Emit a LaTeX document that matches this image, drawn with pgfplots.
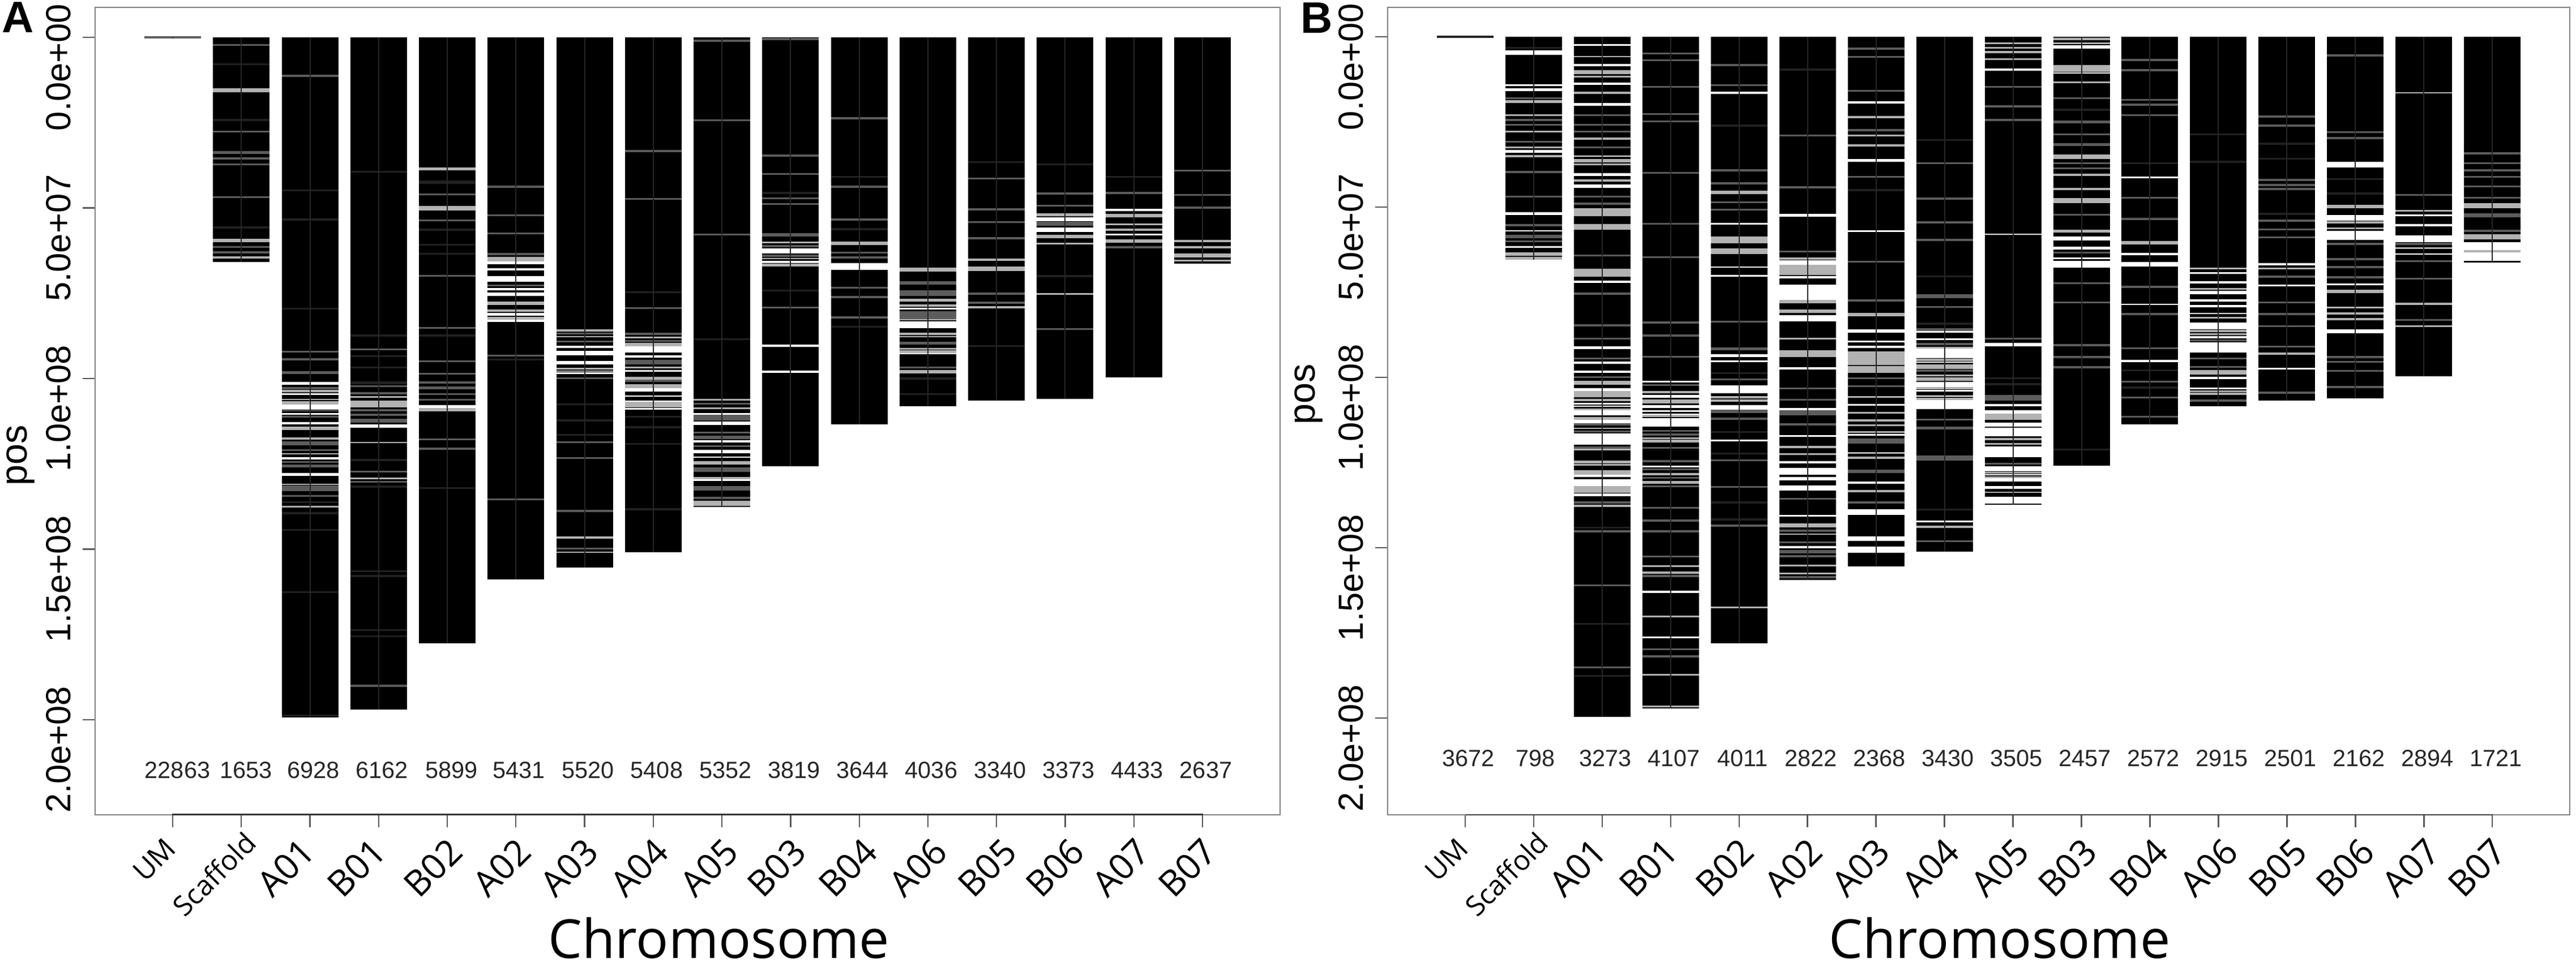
\documentclass[border=0pt]{standalone}
\usepackage{fontspec}
\usepackage{pgfplots}
\usepackage{pgfplotstable}
\pgfplotsset{compat=1.18}
\setmainfont{Liberation Sans}
\newfontfamily\labfont{Open Sans}
\definecolor{bandL}{gray}{0.70}
\definecolor{bandM}{gray}{0.36}
\definecolor{bandD}{gray}{0.13}
\definecolor{axgray}{gray}{0.50}
\newcommand{\yf}{\fontsize{12.3}{12.3}\selectfont}
\newcommand{\xf}{\labfont\fontsize{12.6}{12.6}\selectfont}
% tick label pushed right by 1.41 x #1 (trailing kern plus taller strut)
\newcommand{\xl}[2]{{\xf\rule{0pt}{\dimexpr9pt+#1\relax}#2\kern-#1\relax}}

% chromosome length (Mb), 1 px = 0.2pt in this file
\pgfplotstableread[row sep=\\]{c len\\ 0 .3\\ 1 65.8\\ 2 199.4\\ 3 197\\ 4 177.6\\ 5 158.9\\ 6 155.4\\ 7 150.9\\ 8 137.6\\ 9 125.8\\ 10 113.5\\ 11 108.2\\ 12 106.5\\ 13 105.9\\ 14 99.7\\ 15 66.4\\}\lenA
\pgfplotstableread[row sep=\\]{c len\\ 0 .3\\ 1 65.5\\ 2 199.6\\ 3 197.2\\ 4 178\\ 5 159.5\\ 6 155.5\\ 7 151.1\\ 8 137.3\\ 9 125.9\\ 10 113.8\\ 11 108.5\\ 12 106.8\\ 13 106.2\\ 14 99.7\\ 15 66.3\\}\lenB

% bands: c = chromosome, p = position (Mb), h = half height (Mb)
\pgfplotstableread[row sep=\\]{c p h\\
2 101.4 .4\\ 2 104.6 .3\\ 2 108.4 .7\\ 2 110.4 .3\\ 2 113.1 .3\\ 2 123.4 .35\\ 2 128.1 .45\\
3 114 .5\\ 4 108.2 .45\\
5 66 .5\\ 5 68 .4\\ 5 70.8 .85\\ 5 73.8 .3\\ 5 75.3 .5\\ 5 81.2 .4\\ 5 83.1 .3\\
6 90.7 .35\\ 6 92.5 .7\\ 6 95.4 .5\\ 6 98.5 .25\\
7 91.4 1\\ 7 93.6 .35\\ 7 97.8 .25\\ 7 103.4 .5\\ 7 105.2 .2\\ 7 106.7 .3\\ 7 108.9 .2\\
8 110.4 .3\\ 8 113.1 .5\\ 8 118.4 .3\\ 8 121.4 .5\\ 8 123.1 .2\\ 8 129.7 .3\\
9 62.6 .7\\ 9 65.8 .3\\ 9 90.4 .3\\ 9 98 .3\\
10 67.1 1\\
11 79.5 .2\\ 11 84.2 1\\ 11 92.7 .2\\
13 53.3 .6\\ 13 56.4 .7\\
14 50.6 .3\\ 14 57.8 .3\\
}\whiteA
\pgfplotstableread[row sep=\\]{c p h\\
1 15.5 .55\\ 1 59.5 .5\\ 1 64.5 .3\\
2 103.7 .3\\ 2 106.1 .2\\ 2 107.2 .5\\ 2 114.6 .5\\ 2 117.6 .3\\ 2 122.1 .2\\ 2 131 .2\\ 2 137.6 .3\\
3 105.4 .3\\ 3 107.4 1\\ 3 118.8 .2\\ 3 129.3 .2\\
4 38.6 .4\\ 4 50.1 .6\\ 4 109.1 .5\\
5 65 .6\\ 5 78 .5\\ 5 80.1 .4\\ 5 82.3 .4\\
6 85.9 .35\\ 6 87.7 .2\\ 6 97.1 .2\\ 6 97.9 .2\\ 6 146.6 .3\\ 6 150.9 .2\\
7 88 .2\\ 7 90.1 .5\\ 7 96.8 .3\\ 7 99.9 .4\\ 7 102.3 .6\\ 7 107.6 .8\\
8 106.2 .3\\ 8 108.7 .2\\ 8 124.8 .5\\ 8 129.2 .3\\ 8 136.6 .8\\
9 60.1 .3\\ 9 64.8 .2\\ 9 66.7 .4\\
10 60.4 .5\\
11 68.1 .6\\ 11 77 .4\\ 11 78.6 .4\\ 11 82.6 .3\\ 11 86.9 .3\\ 11 87.7 .2\\ 11 91.3 .2\\ 11 92.1 .4\\ 11 98 .5\\
12 65.2 .3\\ 12 67.8 .7\\ 12 79.1 .3\\
13 52 .4\\ 13 58.3 .5\\ 13 60.4 .25\\ 13 75.2 .25\\
14 52.3 .5\\ 14 54.8 .3\\ 14 56.4 .3\\ 14 59.7 .5\\
15 59.7 .3\\ 15 61.5 .3\\ 15 63.9 .6\\ 15 65.4 .3\\
}\lightA
\pgfplotstableread[row sep=\\]{c p h\\
0 0 .3\\
1 2.2 .28\\ 1 27.6 .28\\ 1 33.8 .4\\ 1 35.5 .28\\ 1 37.2 .28\\ 1 46.8 .28\\ 1 61.4 .28\\ 1 63 .28\\
2 11.3 .28\\ 2 92.1 .28\\ 2 94.4 .28\\ 2 98.3 .4\\ 2 102.8 .3\\ 2 109.5 .2\\ 2 111.2 .28\\ 2 119 .6\\ 2 121 .28\\ 2 124.5 .28\\ 2 125.7 .4\\ 2 132.2 .9\\ 2 134.4 .3\\
3 91.5 .28\\ 3 102.2 .28\\ 3 104.3 .3\\ 3 109.3 .28\\ 3 110.6 .28\\ 3 112.4 .6\\ 3 127.3 .28\\ 3 130.3 .28\\ 3 190.1 .28\\
4 46 .28\\ 4 53.6 .28\\ 4 69.9 .28\\ 4 85.2 .28\\ 4 94.9 .28\\ 4 98.6 .28\\ 4 101.2 .3\\ 4 102.8 .4\\ 4 104.6 .28\\ 4 106.2 .28\\ 4 117.8 .25\\ 4 120.6 .28\\
5 43.8 .28\\ 5 52.2 .28\\ 5 57.5 .28\\ 5 63.5 .28\\ 5 72.7 .28\\ 5 93.3 .28\\ 5 135.5 .25\\
6 86.8 .28\\ 6 89.1 .28\\ 6 99.9 .3\\ 6 118.7 .28\\ 6 123.3 .28\\ 6 138.8 .28\\ 6 149.9 .28\\
7 33.3 .28\\ 7 47.3 .28\\ 7 79.4 .28\\ 7 86.9 .4\\ 7 89 .28\\ 7 95.2 .6\\ 7 100.7 .28\\
8 1 .28\\ 8 24.3 .28\\ 8 57.8 .28\\ 8 107.4 .28\\ 8 111.5 .8\\ 8 115.9 .28\\ 8 117.3 .5\\ 8 119.8 .28\\ 8 126.7 .7\\ 8 132.2 .7\\ 8 135 .28\\
9 .5 .28\\ 9 34.7 .3\\ 9 40 .28\\ 9 47.2 .28\\ 9 48.8 .28\\ 9 57.8 .5\\ 9 61.2 .28\\ 9 64 .28\\ 9 79.2 .28\\
10 23.7 .28\\ 10 43.8 .28\\ 10 53.4 .28\\ 10 63.1 .28\\ 10 64.5 .28\\ 10 73.4 .28\\ 10 76.1 .28\\ 10 82.1 .28\\
11 72 .5\\ 11 75 .8\\ 11 81.4 1.2\\ 11 89.7 .4\\ 11 96.8 .28\\
12 41.4 .28\\ 12 50.4 .28\\ 12 54.1 .28\\ 12 58.9 .28\\ 12 75.1 .28\\ 12 77.8 .28\\
13 45.8 .28\\ 13 49.3 .28\\ 13 54.6 .6\\ 13 85.5 .28\\
14 45.6 .28\\ 14 61.5 .3\\
15 39.1 .28\\ 15 46.2 .28\\ 15 49.9 .28\\
}\midA
\pgfplotstableread[row sep=\\]{c p h\\
1 7.9 .28\\ 1 24.2 .28\\ 1 55.7 .28\\
2 44.9 .28\\ 2 53.4 .28\\ 2 79.5 .28\\ 2 136.3 .28\\ 2 139.5 .28\\ 2 144.4 .28\\ 2 162.6 .28\\ 2 198.8 .28\\
3 39.4 .28\\ 3 87.4 .28\\ 3 93.5 .28\\ 3 96.8 .28\\ 3 101.2 .4\\ 3 123.9 .4\\ 3 131.7 .28\\ 3 156.5 .28\\ 3 157.9 .28\\ 3 173.7 .28\\ 3 175.6 .28\\
4 42.5 .5\\ 4 56.4 .28\\ 4 60.8 .28\\ 4 63.4 .28\\ 4 87.4 .28\\ 4 132.1 .28\\
5 94.5 .28\\
6 107.6 .28\\ 6 112.3 .28\\ 6 116.5 .28\\
7 74.7 .28\\ 7 111.2 .28\\ 7 114.3 .28\\ 7 119.2 .28\\ 7 138.3 .28\\
8 88.5 .28\\
9 45.6 .28\\ 9 74.2 .28\\
10 40.9 .28\\ 10 56.2 .28\\ 10 84.8 .28\\
11 100 .28\\ 11 104.6 .28\\
12 36.6 .28\\ 12 90.5 .28\\
13 37.2 .28\\ 13 70 .28\\
14 40.9 .28\\
}\darkA

\pgfplotstableread[row sep=\\]{c p h\\
1 4.7 .65\\ 1 14.2 .3\\ 1 15.5 .4\\ 1 33.7 .4\\ 1 51.9 .4\\ 1 57 .2\\ 1 61.7 .2\\
2 2.4 .25\\ 2 8.3 .3\\ 2 13.8 .3\\ 2 19.9 .4\\ 2 35 .2\\ 2 40.5 .4\\ 2 43.9 .5\\ 2 71.9 .3\\ 2 91.3 .45\\ 2 95.7 .35\\ 2 98.3 .35\\ 2 103.5 .4\\ 2 107.7 .25\\ 2 108.5 .2\\ 2 110.3 .8\\ 2 113 .5\\ 2 118.1 1.6\\ 2 128.9 .3\\ 2 130.9 1\\ 2 134.5 .45\\
3 101.3 .25\\ 3 105.5 .4\\ 3 108.5 .4\\ 3 109.9 .3\\ 3 110.9 .25\\ 3 113.2 1.2\\ 3 126.2 .25\\ 3 163 .35\\ 3 176.3 .25\\
4 16.4 .35\\ 4 54.9 .2\\ 4 67.6 .2\\ 4 70.2 .2\\ 4 93.6 .35\\ 4 95.3 .25\\ 4 103.5 1.2\\ 4 108.9 .7\\ 4 118.5 .3\\
5 52.4 .35\\ 5 66.5 .9\\ 5 70.6 .35\\ 5 75 2.3\\ 5 82.7 .9\\ 5 97.3 .3\\ 5 109.3 .4\\ 5 117.2 .2\\ 5 124.9 .35\\ 5 127.5 1\\ 5 129.8 .5\\ 5 132.5 .7\\ 5 140.6 .25\\ 5 149.8 .3\\
6 19.3 .35\\ 6 36.3 .35\\ 6 57 .25\\ 6 86.4 .45\\ 6 89.4 .25\\ 6 91 .35\\ 6 95.8 .25\\ 6 108 .25\\ 6 116.8 .25\\ 6 130.9 .3\\ 6 139.5 .8\\ 6 147.3 .7\\ 6 150.6 .9\\
7 86.6 .2\\ 7 88.8 .25\\ 7 93 1.4\\ 7 95.5 .2\\ 7 102.2 .8\\ 7 103.9 .25\\ 7 105.5 .2\\ 7 107.9 1.4\\ 7 142.3 .3\\
8 9.6 .3\\ 8 58 .2\\ 8 90.4 .5\\ 8 108.1 .35\\ 8 110.2 .5\\ 8 113.8 .6\\ 8 116 1.3\\ 8 121.8 1.6\\ 8 126.8 .8\\ 8 128.6 .2\\ 8 130.1 .5\\ 8 132.3 .35\\ 8 136 1\\
9 3 .5\\ 9 10.6 .2\\ 9 59.2 .6\\ 9 62.1 .4\\ 9 65 .3\\ 9 66.8 1\\
10 41.2 .25\\ 10 63.8 .3\\ 10 66.8 .7\\ 10 78.6 .2\\ 10 95.2 .3\\
11 69.3 .25\\ 11 72.1 .3\\ 11 75 .5\\ 11 77.4 .4\\ 11 79.1 .3\\ 11 81.2 .2\\ 11 84.9 1\\ 11 88.2 .25\\ 11 91.2 1.5\\ 11 100.2 .3\\ 11 103.2 .2\\
12 66.8 .3\\ 12 73 .2\\ 12 97.5 .25\\
13 37.5 .8\\ 13 53.2 .8\\ 13 58.3 1.4\\ 13 72.7 .2\\ 13 86.4 .6\\
14 52.4 .3\\ 14 55.3 .3\\ 14 59.3 1\\ 14 63.8 .2\\
15 63.05 2.75\\
}\whiteB
\pgfplotstableread[row sep=\\]{c p h\\
1 19 .4\\ 1 23 .28\\ 1 27.8 .28\\ 1 32.5 .28\\ 1 35 .3\\ 1 63.8 .5\\ 1 65 .4\\
2 5.8 .2\\ 2 10.4 .6\\ 2 11.7 .28\\ 2 16.4 .3\\ 2 29.9 .28\\ 2 36.3 .5\\ 2 37.5 .28\\ 2 42.2 .3\\ 2 51.5 1.2\\ 2 55.8 .8\\ 2 69.3 1.2\\ 2 101.6 .6\\ 2 104.9 .9\\ 2 106.6 .3\\ 2 109.4 .3\\ 2 112.1 .4\\ 2 114.9 .2\\ 2 121.2 .28\\ 2 124.8 .4\\ 2 125.7 .28\\ 2 127.9 .6\\ 2 132.9 1\\ 2 137.7 .28\\
3 104.3 .28\\ 3 106.8 .3\\ 3 107.4 .28\\ 3 111.3 .28\\ 3 117.9 .28\\ 3 118.7 .4\\ 3 128.4 .28\\ 3 130.8 .4\\ 3 155.4 .3\\ 3 157.3 .28\\ 3 170.2 .28\\ 3 187.3 .3\\ 3 196.6 .28\\
4 45.6 .5\\ 4 59.6 1\\ 4 63 .8\\ 4 105.8 .4\\ 4 106.8 .4\\ 4 167.5 .25\\
5 65.1 .3\\ 5 68.5 1.5\\ 5 77.8 .5\\ 5 80.6 .5\\ 5 88.6 .28\\ 5 93 1\\ 5 120.4 .28\\ 5 122.5 .28\\ 5 143.4 .6\\ 5 146 .2\\ 5 155.2 .28\\ 5 157.5 .25\\
6 23.6 .28\\ 6 29 .28\\ 6 31.9 .28\\ 6 81.6 .5\\ 6 94.4 2\\ 6 97.7 1\\ 6 105.7 .28\\ 6 110.4 .2\\ 6 112.6 .28\\ 6 114 .28\\ 6 116 .28\\ 6 122.2 .28\\ 6 123.6 .28\\ 6 133.4 .3\\
7 91.3 .28\\ 7 94.8 .3\\ 7 96.5 .28\\ 7 97.2 .28\\ 7 99.4 .28\\ 7 100.5 .5\\ 7 103.2 .35\\ 7 106.3 .3\\ 7 143.8 .3\\
8 1.9 .28\\ 8 3.2 .28\\ 8 4.5 .28\\ 8 6.6 .28\\ 8 111.5 .9\\ 8 118.1 .25\\ 8 119.5 .25\\ 8 128 .3\\ 8 129.3 .3\\ 8 133.7 .2\\
9 .7 .3\\ 9 1.9 .3\\ 9 9.3 1\\ 9 13.4 .2\\ 9 35.2 .6\\ 9 40.5 .28\\ 9 44.7 .28\\ 9 48.1 .7\\ 9 57 .4\\
10 60.4 .5\\
11 68 .28\\ 11 74 .28\\ 11 82.5 .28\\ 11 86.4 .28\\ 11 87.3 .28\\ 11 98.5 .7\\ 11 104.1 .28\\ 11 104.8 .28\\
12 68 .28\\ 12 93 .28\\
13 49.8 .5\\ 13 54.5 .28\\ 13 56.2 .28\\ 13 74.8 .5\\ 13 79.5 .28\\ 13 81.2 .28\\ 13 82.9 .28\\
14 16.4 .2\\ 14 51.1 .2\\ 14 62 .28\\ 14 78.4 .3\\ 14 85 .28\\
15 49.6 .7\\ 15 58.7 .7\\ 15 63 .35\\
}\lightB
\pgfplotstableread[row sep=\\]{c p h\\
1 18 .28\\ 1 24.4 .28\\ 1 25.8 .28\\ 1 30.8 .28\\ 1 39.7 .28\\ 1 46.9 .28\\ 1 55.3 .28\\ 1 58.7 .5\\ 1 60 .28\\
2 23 .28\\ 2 25.8 .28\\ 2 27.8 .28\\ 2 32.5 .28\\ 2 46.9 .28\\ 2 49 .28\\ 2 64.2 .28\\ 2 75.4 .28\\ 2 84.7 .28\\ 2 88.6 .28\\ 2 94.4 .28\\ 2 99.9 .28\\ 2 113.8 .28\\ 2 115.9 .28\\ 2 120.6 .28\\ 2 136.7 .28\\ 2 145.2 .28\\ 2 161 .28\\ 2 185.1 .28\\
3 4.9 .28\\ 3 6.9 .28\\ 3 14.7 .28\\ 3 22.7 .28\\ 3 24.8 .28\\ 3 39.9 .28\\ 3 54.9 .28\\ 3 64.7 .28\\ 3 83.9 .28\\ 3 87.7 .28\\ 3 93.9 .28\\ 3 102.2 .28\\ 3 115.7 .28\\ 3 116.8 .28\\ 3 120.7 .28\\ 3 124.6 .28\\ 3 127 .28\\ 3 129.5 .28\\ 3 132 .28\\ 3 138.3 .28\\ 3 142 .28\\ 3 145.2 .28\\ 3 152.6 .28\\ 3 158.3 .28\\ 3 179.8 .28\\ 3 181.9 .28\\
4 8.3 .28\\ 4 14.2 .28\\ 4 39.2 .28\\ 4 43 .28\\ 4 48.6 .28\\ 4 50.7 .28\\ 4 83.6 .28\\ 4 91.6 .4\\ 4 100.6 .3\\ 4 110 .5\\ 4 112.1 .28\\ 4 124.3 .28\\ 4 132.1 .28\\ 4 143.5 .28\\
5 29 .28\\ 5 44.2 .28\\ 5 63 .28\\ 5 103.2 .28\\ 5 106.6 .28\\ 5 110.4 .8\\ 5 113.8 .28\\ 5 135.6 .28\\ 5 145 .28\\ 5 148.4 .28\\ 5 151.1 .5\\ 5 152.5 .28\\ 5 158.6 .28\\
6 3.5 .28\\ 6 5.9 .28\\ 6 15.9 .28\\ 6 27.4 .28\\ 6 41.1 .28\\ 6 66 .28\\ 6 77.4 .28\\ 6 100.2 .28\\ 6 102.6 .28\\ 6 118.7 .8\\ 6 127.6 .5\\ 6 136.7 .28\\
7 37.1 .28\\ 7 47.5 .28\\ 7 54.5 .28\\ 7 59.6 .3\\ 7 76.1 .6\\ 7 79.3 .28\\ 7 86 .4\\ 7 90.2 .28\\ 7 98 .28\\ 7 112.4 .28\\ 7 114.9 .4\\ 7 123.7 .7\\ 7 148.1 .28\\
8 14.7 .28\\ 8 20.4 .28\\ 8 24.4 .28\\ 8 88.6 .28\\ 8 106 .8\\ 8 125.3 .3\\
9 18 .28\\ 9 25 .4\\ 9 28.6 .28\\ 9 31.6 .4\\ 9 37.1 .28\\ 9 38.6 .28\\ 9 52.2 .28\\ 9 63.4 .28\\ 9 72.3 .28\\ 9 78 .28\\ 9 90.5 .28\\ 9 94 .28\\ 9 97 .28\\
10 6.8 .28\\ 10 9.8 .28\\ 10 18.5 .28\\ 10 19.9 .28\\ 10 23 .28\\ 10 47.3 .28\\ 10 53.5 .28\\ 10 73.4 .28\\ 10 81.4 .28\\ 10 91.4 .28\\ 10 101.2 .28\\ 10 105.9 .28\\ 10 111.5 .28\\
11 89.1 .28\\ 11 94.4 .28\\ 11 96.9 .28\\ 11 106.8 .28\\
12 23.4 .28\\ 12 26.1 .28\\ 12 42 .3\\ 12 43.5 .28\\ 12 44.7 .28\\ 12 54 .28\\ 12 56.6 .28\\ 12 58.9 .28\\ 12 70.4 .28\\ 12 78 .28\\ 12 81.4 .28\\ 12 85 .28\\ 12 90.9 .28\\ 12 104.5 .28\\
13 5.5 .28\\ 13 28 .28\\ 13 29.7 .28\\ 13 60.8 .28\\ 13 65.3 .28\\ 13 67.6 .28\\ 13 70.6 .28\\ 13 94 .28\\ 13 95.4 .28\\ 13 98.1 .28\\ 13 102.8 .28\\
14 46.4 .28\\ 14 60.8 .28\\ 14 65.9 .28\\ 14 71 .28\\ 14 83.1 .28\\
15 34.2 .28\\ 15 37.1 .28\\ 15 39.2 .28\\ 15 41.1 .28\\ 15 43.9 .28\\ 15 47.3 .28\\ 15 52.4 .6\\ 15 57 .28\\
}\midB
\pgfplotstableread[row sep=\\]{c p h\\
0 0 .3\\
1 3.2 .28\\
2 144.1 .28\\ 2 172.3 .28\\ 2 187.6 .28\\
4 26.1 .28\\ 4 98.8 .28\\ 4 116 .28\\ 4 122.3 .28\\ 4 136.7 .28\\ 4 141.7 .28\\
5 9.6 .28\\
6 45 .28\\
7 30.3 .28\\ 7 70.3 .28\\ 7 84.2 .28\\ 7 138.8 .28\\
8 100.2 .28\\ 8 102 .28\\
9 21.4 .28\\ 9 121.2 .28\\
10 37.1 .28\\ 10 97.9 .28\\ 10 103 .28\\
11 28.6 .28\\ 11 36.7 .28\\
12 31.4 .28\\ 12 35.8 .28\\ 12 52 .28\\
13 41.8 .28\\ 13 46 .28\\
}\darkB

\pgfplotsset{
  chrom/.style={
    scale only axis, anchor=north west, height=285.4pt,
    y dir=reverse, xmin=-1.13, xmax=16.13,
    axis line style={axgray, line width=.5pt},
    tick style={gray!70!black, line width=.45pt},
    tick align=outside, major tick length=4.4pt,
    xtick pos=bottom, ytick pos=left,
    xtick={0,...,15},
    xticklabels={
      {\labfont\fontsize{10}{10}\selectfont\rule{0pt}{7.7pt}UM\kern-.55pt},
      {\labfont\fontsize{9.8}{9.8}\selectfont\rule{0pt}{9.3pt}Scaffold\kern-4.85pt},
      \xl{.2pt}{A01},\xl{.8pt}{B01},\xl{2.7pt}{B02},\xl{2.7pt}{A02},\xl{2.4pt}{A03},
      \xl{2.75pt}{A04},\xl{3pt}{A05},\xl{2.8pt}{B03},\xl{3.5pt}{B04},\xl{3.8pt}{A06},
      \xl{4pt}{B05},\xl{3.7pt}{B06},\xl{3pt}{A07},\xl{2.5pt}{B07}},
    xticklabel style={rotate=45, anchor=north east, inner sep=0pt, xshift=-4.95pt, yshift=.85pt},
    ytick={0,50,100,150,200},
    yticklabels={{\yf 0.0e+00},{\yf 5.0e+07},{\yf 1.0e+08},{\yf 1.5e+08},{\yf 2.0e+08}},
    yticklabel style={rotate=90, anchor=south, inner sep=0pt, xshift=-10.6pt, yshift=4pt},
    xlabel=Chromosome, ylabel=pos,
  },
  bar/.style={ycomb, mark=none, black, line width=20pt},
  whisk/.style={ycomb, mark=none, black!85, line width=.4pt},
  band/.style={draw=none, mark=none,
    error bars/.cd, y dir=both, y explicit, error mark=none,
    error bar style={draw=#1, line width=20pt}},
  counts/.style={draw=none, mark=none, nodes near coords,
    point meta=explicit symbolic,
    every node near coord/.style={anchor=center, inner sep=0pt,
      font=\fontsize{8.3}{8.3}\selectfont, text=black!85}},
}

\begin{document}
\begin{tikzpicture}
\useasboundingbox (0,0) rectangle (910pt,-341.8pt);
\node[anchor=base west, inner sep=0pt, font=\bfseries\fontsize{15.6}{15.6}\selectfont] at (0.6pt,-11.6pt) {A};
\node[anchor=base west, inner sep=0pt, font=\bfseries\fontsize{15.6}{15.6}\selectfont] at (459.2pt,-11.8pt) {B};

\begin{axis}[chrom, at={(33.6pt,-2.6pt)}, width=418.6pt,
    ymin=-8.8, ymax=227.9,
    every axis x label/.style={at={(axis description cs:0.5265,0)}, anchor=center, yshift=-43.6pt,
      font=\labfont\fontsize{19}{19}\selectfont},
    every axis y label/.style={at={(axis description cs:-0.063,0.445)}, rotate=90, anchor=center,
      font=\fontsize{13.3}{13.3}\selectfont}]
  \addplot[bar] table[x=c,y=len] {\lenA};
  \addplot[band=white] table[x=c,y=p,y error=h] {\whiteA};
  \addplot[band=bandL] table[x=c,y=p,y error=h] {\lightA};
  \addplot[band=bandM] table[x=c,y=p,y error=h] {\midA};
  \addplot[band=bandD] table[x=c,y=p,y error=h] {\darkA};
  \addplot[whisk] table[x=c,y=len] {\lenA};
  \addplot[counts] coordinates {
    (0.07,214.8)[22863] (1.07,214.8)[1653] (2.05,214.8)[6928] (3.05,214.8)[6162]
    (4.06,214.8)[5899] (5.04,214.8)[5431] (6.05,214.8)[5520] (7.05,214.8)[5408]
    (8.05,214.8)[5352] (9.05,214.8)[3819] (10.05,214.8)[3644] (11.05,214.8)[4036]
    (12.05,214.8)[3340] (13.05,214.8)[3373] (14.05,214.8)[4433] (15.05,214.8)[2637]};
  \draw[gray!40!black, line width=.7pt] (axis description cs:0.065,0) -- (axis description cs:0.935,0);
\end{axis}

\begin{axis}[chrom, at={(490.2pt,-2.6pt)}, width=417.6pt,
    ymin=-8.64, ymax=228.4,
    every axis x label/.style={at={(axis description cs:0.5177,0)}, anchor=center, yshift=-43.6pt,
      font=\labfont\fontsize{19}{19}\selectfont},
    every axis y label/.style={at={(axis description cs:-0.067,0.521)}, rotate=90, anchor=center,
      font=\fontsize{13.3}{13.3}\selectfont}]
  \addplot[bar] table[x=c,y=len] {\lenB};
  \addplot[band=white] table[x=c,y=p,y error=h] {\whiteB};
  \addplot[band=bandL] table[x=c,y=p,y error=h] {\lightB};
  \addplot[band=bandM] table[x=c,y=p,y error=h] {\midB};
  \addplot[band=bandD] table[x=c,y=p,y error=h] {\darkB};
  \addplot[whisk] table[x=c,y=len] {\lenB};
  \addplot[counts] coordinates {
    (0.05,211.8)[3672] (1.03,211.8)[798] (2.05,211.8)[3273] (3.05,211.8)[4107]
    (4.05,211.8)[4011] (5.05,211.8)[2822] (6.05,211.8)[2368] (7.05,211.8)[3430]
    (8.05,211.8)[3505] (9.05,211.8)[2457] (10.05,211.8)[2572] (11.05,211.8)[2915]
    (12.05,211.8)[2501] (13.05,211.8)[2162] (14.05,211.8)[2894] (15.05,211.8)[1721]};
  \draw[gray!50!black, line width=.5pt] (axis description cs:0.066,0) -- (axis description cs:0.935,0);
\end{axis}
\end{tikzpicture}
\end{document}
